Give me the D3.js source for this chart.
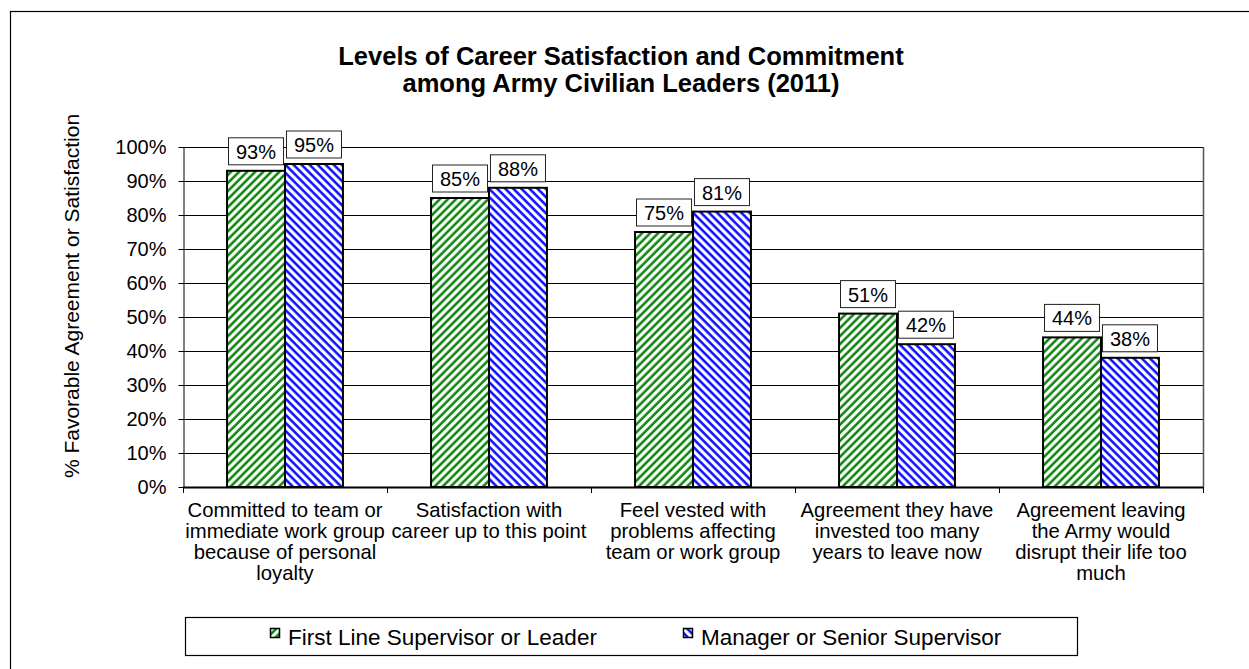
<!DOCTYPE html>
<html>
<head>
<meta charset="utf-8">
<script src="https://cdn.jsdelivr.net/npm/d3@7"></script>
<style>
	body { margin: 0; background: #fff; }
	text { font-family: "Liberation Sans", Arial, sans-serif; fill: #000; }
</style>
</head>
<body>
<script>
//wrap in an anonymous function so nothing ends up global
(function () {
	//chart data
	var categories = [
		"Committed to team or|immediate work group|because of personal|loyalty",
		"Satisfaction with|career up to this point",
		"Feel vested with|problems affecting|team or work group",
		"Agreement they have|invested too many|years to leave now",
		"Agreement leaving|the Army would|disrupt their life too|much"
	];
	var seriesNames = ["First Line Supervisor or Leader", "Manager or Senior Supervisor"];
	var firstLine = [93, 85, 75, 51, 44];
	var manager = [95, 88, 81, 42, 38];
	var yTicks = [0, 10, 20, 30, 40, 50, 60, 70, 80, 90, 100];
	var titleLines = ["Levels of Career Satisfaction and Commitment", "among Army Civilian Leaders (2011)"];
	var yTitle = "% Favorable Agreement or Satisfaction";

	var colors = ["#008000", "#0000ff"];
	var hatchAngle = [45, -45];

	window.onload = drawChart();

	function drawChart() {
		var width = 1249, height = 669;
		var plot = { left: 183, right: 1203, top: 147, bottom: 487 };

		var svg = d3.select("body")
			.append("svg")
			.attr("width", width)
			.attr("height", height);

		//hatch patterns for the two series
		var defs = svg.append("defs");
		colors.forEach(function (c, i) {
			var p = defs.append("pattern")
				.attr("id", "hatch" + i)
				.attr("patternUnits", "userSpaceOnUse")
				.attr("width", 5.7)
				.attr("height", 5.7)
				.attr("patternTransform", "rotate(" + hatchAngle[i] + ")");
			p.append("rect").attr("width", 5.7).attr("height", 5.7).attr("fill", "#fff");
			p.append("line")
				.attr("x1", 1.5).attr("y1", 0)
				.attr("x2", 1.5).attr("y2", 5.7)
				.attr("stroke", c)
				.attr("stroke-width", 2.4);
		});

		//outer chart border (runs off the right and bottom edges)
		svg.append("rect")
			.attr("x", 10.5).attr("y", 11.5)
			.attr("width", 1260).attr("height", 680)
			.attr("fill", "none")
			.attr("stroke", "#000")
			.attr("stroke-width", 1.2);

		//title
		svg.append("text")
			.attr("x", 621)
			.attr("y", 65)
			.attr("text-anchor", "middle")
			.style("font-size", "25.5px")
			.style("font-weight", "bold")
			.selectAll("tspan")
			.data(titleLines)
			.enter()
			.append("tspan")
			.attr("x", 621)
			.attr("dy", function (d, i) { return i == 0 ? 0 : 27; })
			.text(function (d) { return d; });

		//scales
		var y = d3.scaleLinear().domain([0, 100]).range([plot.bottom, plot.top]);
		var x0 = d3.scaleBand().domain(categories).range([plot.left, plot.right]).padding(0);
		var x1 = d3.scaleBand().domain(seriesNames).range([0, x0.bandwidth()]).paddingInner(0).paddingOuter(0.76);

		//gridlines
		svg.append("g")
			.selectAll("line")
			.data(yTicks.slice(1))
			.enter()
			.append("line")
			.attr("x1", plot.left).attr("x2", plot.right)
			.attr("y1", function (d) { return Math.round(y(d)) + 0.5; })
			.attr("y2", function (d) { return Math.round(y(d)) + 0.5; })
			.attr("stroke", "#000")
			.attr("stroke-width", 1);

		//plot area right border
		svg.append("line")
			.attr("x1", plot.right + 0.5).attr("x2", plot.right + 0.5)
			.attr("y1", plot.top).attr("y2", plot.bottom)
			.attr("stroke", "#555")
			.attr("stroke-width", 1.5);

		//y axis
		var yAxis = svg.append("g")
			.attr("transform", "translate(" + (plot.left + 0.5) + ",0)")
			.call(d3.axisLeft(y).tickValues(yTicks).tickSize(5).tickSizeOuter(0).tickPadding(12)
				.tickFormat(function (d) { return d + "%"; }));
		yAxis.selectAll("text")
			.style("font-size", "20px")
			.style("font-family", "'Liberation Sans', Arial, sans-serif")
			.attr("fill", "#000");
		yAxis.selectAll("line, path").attr("stroke", "#000");

		//y axis title
		svg.append("text")
			.attr("transform", "translate(79,296) rotate(-90)")
			.attr("text-anchor", "middle")
			.style("font-size", "21px")
			.text(yTitle);

		//bar groups
		var seriesData = [firstLine, manager];
		var groups = svg.selectAll(".group")
			.data(categories)
			.enter()
			.append("g")
			.attr("class", "group")
			.attr("transform", function (d) { return "translate(" + x0(d) + ",0)"; });

		groups.each(function (cat, ci) {
			var g = d3.select(this);
			seriesNames.forEach(function (s, si) {
				var v = seriesData[si][ci];
				var bx = x1(s), bw = x1.bandwidth(), by = y(v);
				g.append("rect")
					.attr("class", "bar")
					.attr("x", bx)
					.attr("y", by)
					.attr("width", bw)
					.attr("height", plot.bottom - by)
					.attr("fill", "url(#hatch" + si + ")")
					.attr("stroke", "#000")
					.attr("stroke-width", 2);

				//value label box
				var cx = bx + bw / 2;
				g.append("rect")
					.attr("x", cx - 27.5)
					.attr("y", by - 33)
					.attr("width", 55)
					.attr("height", 27)
					.attr("fill", "#fff")
					.attr("stroke", "#222")
					.attr("stroke-width", 1);
				g.append("text")
					.attr("x", cx)
					.attr("y", by - 12)
					.attr("text-anchor", "middle")
					.style("font-size", "20px")
					.text(v + "%");
			});
		});

		//x axis line and category boundary ticks
		svg.append("line")
			.attr("x1", plot.left).attr("x2", plot.right)
			.attr("y1", plot.bottom + 0.5).attr("y2", plot.bottom + 0.5)
			.attr("stroke", "#000")
			.attr("stroke-width", 2);
		var bounds = categories.map(function (c) { return x0(c); }).concat([plot.right]);
		svg.append("g")
			.selectAll("line")
			.data(bounds)
			.enter()
			.append("line")
			.attr("x1", function (d) { return d + 0.5; })
			.attr("x2", function (d) { return d + 0.5; })
			.attr("y1", plot.bottom).attr("y2", plot.bottom + 6)
			.attr("stroke", "#000");

		//category labels
		svg.append("g")
			.selectAll("text")
			.data(categories)
			.enter()
			.append("text")
			.attr("text-anchor", "middle")
			.style("font-size", "20.3px")
			.each(function (d) {
				var t = d3.select(this);
				var cx = x0(d) + x0.bandwidth() / 2;
				d.split("|").forEach(function (line, li) {
					t.append("tspan")
						.attr("x", cx)
						.attr("y", 517 + li * 21)
						.text(line);
				});
			});

		//legend
		var legend = svg.append("g");
		legend.append("rect")
			.attr("x", 185.5).attr("y", 617.5)
			.attr("width", 892).attr("height", 38)
			.attr("fill", "#fff")
			.attr("stroke", "#000")
			.attr("stroke-width", 1.2);
		var legendX = [270, 683];
		seriesNames.forEach(function (s, i) {
			legend.append("rect")
				.attr("x", legendX[i] + 0.5).attr("y", 628.5)
				.attr("width", 9).attr("height", 9)
				.attr("fill", "url(#hatch" + i + ")")
				.attr("stroke", "#000")
				.attr("stroke-width", 1.5);
			legend.append("text")
				.attr("x", legendX[i] + 18)
				.attr("y", 645)
				.style("font-size", "22.5px")
				.text(s);
		});
	};
})();
</script>
</body>
</html>
